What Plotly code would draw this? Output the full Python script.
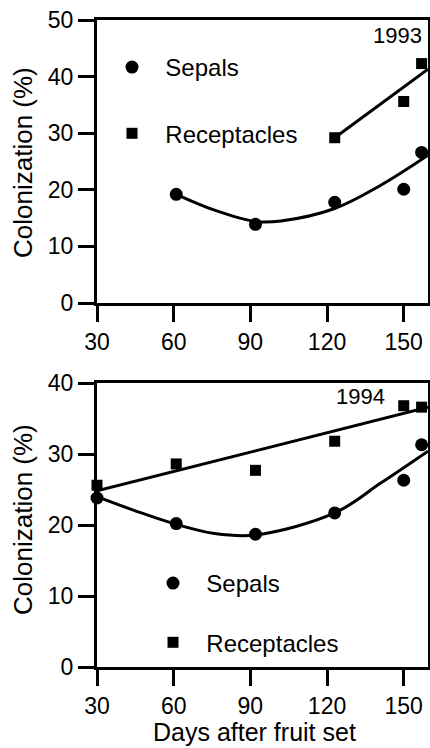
import plotly.graph_objects as go

# ---------------- data ----------------
days_top_sep = [61, 92, 123, 150, 157]
sep_1993 = [19.2, 13.9, 17.8, 20.1, 26.6]
days_top_rec = [123, 150, 157]
rec_1993 = [29.2, 35.6, 42.3]

# fitted curves
fit_sep_1993_x = [61, 76, 92, 102, 123, 141, 159.5]
fit_sep_1993_y = [19.2, 16.4, 14.4, 14.5, 16.7, 20.8, 26.1]
fit_rec_1993_x = [123, 159.5]
fit_rec_1993_y = [29.2, 41.3]

days_bot = [30, 61, 92, 123, 150, 157]
sep_1994 = [23.8, 20.2, 18.7, 21.7, 26.3, 31.3]
rec_1994 = [25.6, 28.6, 27.7, 31.8, 36.8, 36.6]

fit_sep_1994_x = [30, 45, 60, 76, 92, 123, 141, 159.5]
fit_sep_1994_y = [24.0, 22.0, 20.2, 18.8, 18.6, 21.7, 25.9, 30.4]
fit_rec_1994_x = [30, 159.5]
fit_rec_1994_y = [24.8, 36.6]

x_ticks = [30, 60, 90, 120, 150]
y_ticks_top = [0, 10, 20, 30, 40, 50]
y_ticks_bot = [0, 10, 20, 30, 40]

FONT = "Liberation Sans, Arial, Helvetica, sans-serif"
W, H = 430, 748
LW = 3
SP = "\u00a0\u00a0"

fig = go.Figure()

def pts(x, y, sym, name, xa, ya, legend, group, size):
    fig.add_trace(go.Scatter(
        x=x, y=y, mode="markers", name=SP + name, xaxis=xa, yaxis=ya,
        legend=legend, legendgroup=group,
        marker=dict(symbol=sym, size=size, color="black"),
        cliponaxis=False))

def fit(x, y, xa, ya):
    fig.add_trace(go.Scatter(
        x=x, y=y, mode="lines", xaxis=xa, yaxis=ya, showlegend=False,
        line=dict(color="black", width=LW, shape="spline", smoothing=1.0),
        hoverinfo="skip"))

# top panel (1993)
fit(fit_sep_1993_x, fit_sep_1993_y, "x", "y")
fit(fit_rec_1993_x, fit_rec_1993_y, "x", "y")
pts(days_top_sep, sep_1993, "circle", "Sepals", "x", "y", "legend", "a", 13)
pts(days_top_rec, rec_1993, "square", "Receptacles", "x", "y", "legend", "b", 11)

# bottom panel (1994)
fit(fit_sep_1994_x, fit_sep_1994_y, "x2", "y2")
fit(fit_rec_1994_x, fit_rec_1994_y, "x2", "y2")
pts(days_bot, sep_1994, "circle", "Sepals", "x2", "y2", "legend2", "c", 13)
pts(days_bot, rec_1994, "square", "Receptacles", "x2", "y2", "legend2", "d", 11)

x_dom = [97 / W, 428 / W]
top_dom = [1 - 303 / H, 1 - 20 / H]
bot_dom = [1 - 667 / H, 1 - 383 / H]

axis_common = dict(
    showline=True, linecolor="black", linewidth=LW, mirror=True,
    ticks="outside", ticklen=16, tickwidth=LW, tickcolor="black",
    showticklabels=True,
    showgrid=False, zeroline=False, automargin=False,
    tickfont=dict(family=FONT, size=23, color="black"),
)

def ann(text, x, y, size, angle=0):
    return dict(text=text, x=x / W, y=1 - y / H, xref="paper", yref="paper",
                xanchor="center", yanchor="middle", showarrow=False,
                textangle=angle, font=dict(family=FONT, size=size, color="black"))

fig.update_layout(
    width=W, height=H, autosize=False,
    margin=dict(l=0, r=0, t=0, b=0, pad=0),
    paper_bgcolor="white", plot_bgcolor="white",
    showlegend=True,
    hovermode=False,
    xaxis=dict(axis_common, domain=x_dom, range=[30, 159.5], tickvals=x_ticks,
               anchor="y"),
    yaxis=dict(axis_common, domain=top_dom, range=[0, 50], tickvals=y_ticks_top,
               anchor="x"),
    xaxis2=dict(axis_common, domain=x_dom, range=[30, 159.5], tickvals=x_ticks,
                anchor="y2"),
    yaxis2=dict(axis_common, domain=bot_dom, range=[0, 40], tickvals=y_ticks_bot,
                anchor="x2"),
    legend=dict(x=112 / W, y=1 - 45 / H, xanchor="left", yanchor="top",
                traceorder="grouped", tracegroupgap=32,
                font=dict(family=FONT, size=24, color="black"),
                bgcolor="rgba(0,0,0,0)"),
    legend2=dict(x=153 / W, y=1 - 561 / H, xanchor="left", yanchor="top",
                 traceorder="grouped", tracegroupgap=25,
                 font=dict(family=FONT, size=24, color="black"),
                 bgcolor="rgba(0,0,0,0)"),
    annotations=[
        ann("1993", 397, 36, 22),
        ann("1994", 360, 396, 22),
        ann("Colonization (%)", 23, 163, 26, -90),
        ann("Colonization (%)", 23, 520, 26, -90),
        ann("Days after fruit set", 254, 732, 25),
    ],
)

fig.write_html("out.html",
               config={"displayModeBar": False, "responsive": False},
               post_script="document.body.style.margin='0';")
